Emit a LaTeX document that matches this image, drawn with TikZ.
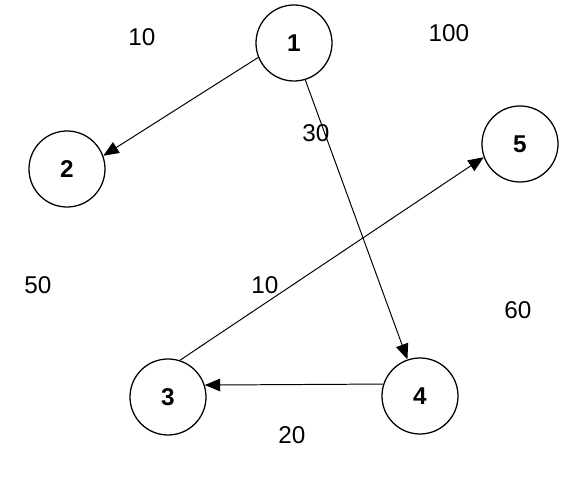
\documentclass[tikz,border=0pt]{standalone}
\usepackage{fontspec}
\setmainfont{Liberation Sans}
\usepackage{tikz}
\usetikzlibrary{arrows.meta}

\begin{document}
\begin{tikzpicture}[
    x=0.025cm, y=-0.025cm,
    vertex/.style={circle, draw=black, line width=0.9pt, minimum size=1.9cm, inner sep=0pt, font=\LARGE\bfseries},
    weight/.style={font=\LARGE},
    arr/.style={-{Triangle[length=11pt, width=9pt]}, line width=0.7pt}
]
  \useasboundingbox (0,0) rectangle (588,490);

  \node[vertex] (n1) at (294, 43) {1};
  \node[vertex] (n2) at (67, 169) {2};
  \node[vertex] (n3) at (168, 397) {3};
  \node[vertex] (n4) at (420, 396) {4};
  \node[vertex] (n5) at (520, 144) {5};

  \draw[arr] (n1.202) -- (n2.20);
  \draw[arr] (n1.-73) -- (n4.109);
  \draw[arr] (n3.72)  -- (n5.200);
  \draw[arr] (n4.162) -- (n3.18);

  \node[weight] (w1) at (142, 37)  {10};
  \node[weight] (w2) at (449, 33)  {100};
  \node[weight] (w3) at (316, 133) {30};
  \node[weight] (w4) at (38, 285)  {50};
  \node[weight] (w5) at (265, 285) {10};
  \node[weight] (w6) at (518, 310) {60};
  \node[weight] (w7) at (292, 435) {20};
\end{tikzpicture}
\end{document}
